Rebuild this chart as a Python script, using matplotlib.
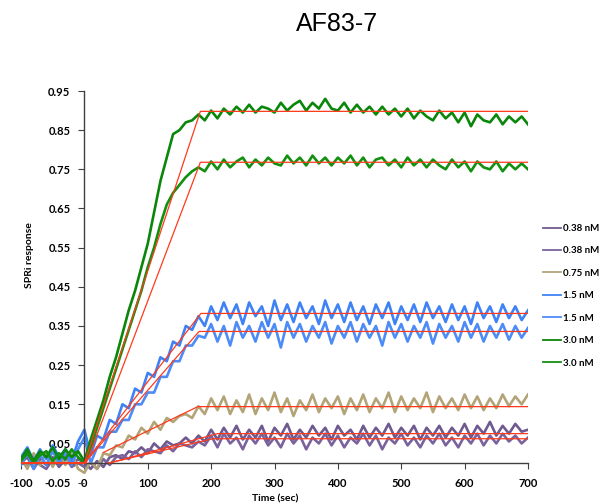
import numpy as np
import matplotlib
matplotlib.use("Agg")
import matplotlib.pyplot as plt

# ---------------- data ----------------
time_sec = list(range(-100, 701, 10))

labels = ["0.38 nM", "0.38 nM", "0.75 nM", "1.5 nM", "1.5 nM", "3.0 nM", "3.0 nM"]
colors = ["#6f5a8f", "#7a639c", "#b3a478", "#3f82f5", "#4d8cf7", "#0a870a", "#12900f"]

p1 = ([0.0, 0.015, -0.015, 0.01, -0.005, 0.015, -0.01, 0.01, -0.005, 0.01, 0.0] +
      [-0.015, 0.005, -0.01, 0.015, 0.02, 0.01, 0.03, 0.025, 0.04, 0.025, 0.05, 0.035, 0.055, 0.045, 0.05, 0.065, 0.05, 0.07] +
      [0.055, 0.085, 0.06, 0.09, 0.065, 0.095, 0.06, 0.085, 0.065, 0.095, 0.055, 0.09, 0.07, 0.1, 0.06, 0.085, 0.065, 0.095,
       0.07, 0.09, 0.06, 0.095, 0.07, 0.085, 0.06, 0.095, 0.065, 0.09, 0.07, 0.1, 0.065, 0.09, 0.07, 0.095, 0.06,
       0.09, 0.07, 0.095, 0.065, 0.09, 0.07, 0.1, 0.065, 0.095, 0.075, 0.105, 0.07, 0.095, 0.075, 0.1, 0.08, 0.085])
p2 = ([0.005, -0.01, 0.015, -0.005, -0.015, 0.01, -0.005, 0.015, -0.01, 0.0, -0.01] +
      [0.0, -0.015, 0.01, -0.005, 0.015, 0.02, 0.01, 0.03, 0.015, 0.035, 0.03, 0.025, 0.045, 0.03, 0.05, 0.045, 0.04, 0.055] +
      [0.045, 0.07, 0.04, 0.075, 0.05, 0.065, 0.035, 0.07, 0.05, 0.075, 0.045, 0.065, 0.04, 0.075, 0.05, 0.07, 0.035, 0.065,
       0.05, 0.075, 0.045, 0.07, 0.04, 0.065, 0.05, 0.075, 0.045, 0.07, 0.035, 0.065, 0.05, 0.075, 0.045, 0.065, 0.04,
       0.07, 0.05, 0.075, 0.045, 0.065, 0.04, 0.07, 0.05, 0.075, 0.045, 0.07, 0.05, 0.075, 0.055, 0.07, 0.05, 0.065])
t075 = ([0.015, -0.015, 0.025, -0.005, 0.03, -0.01, 0.02, -0.005, 0.025, -0.015, -0.025] +
        [0.005, -0.015, 0.025, 0.02, 0.045, 0.04, 0.07, 0.06, 0.09, 0.075, 0.105, 0.085, 0.115, 0.105, 0.12, 0.125, 0.115, 0.145] +
        [0.125, 0.165, 0.135, 0.17, 0.125, 0.16, 0.13, 0.175, 0.125, 0.165, 0.135, 0.18, 0.13, 0.165, 0.12, 0.16, 0.135, 0.175,
         0.13, 0.165, 0.14, 0.17, 0.125, 0.165, 0.135, 0.175, 0.13, 0.165, 0.14, 0.18, 0.13, 0.17, 0.135, 0.165, 0.14,
         0.18, 0.13, 0.17, 0.14, 0.165, 0.135, 0.175, 0.14, 0.17, 0.135, 0.165, 0.14, 0.175, 0.145, 0.17, 0.15, 0.175])
b1 = ([0.015, 0.04, 0.005, 0.035, 0.01, 0.045, 0.015, 0.035, 0.005, 0.055, 0.085] +
      [0.02, 0.07, 0.06, 0.11, 0.1, 0.15, 0.14, 0.19, 0.18, 0.23, 0.22, 0.27, 0.26, 0.31, 0.3, 0.35, 0.34, 0.375] +
      [0.35, 0.4, 0.365, 0.41, 0.37, 0.405, 0.355, 0.41, 0.375, 0.4, 0.35, 0.415, 0.365, 0.405, 0.36, 0.41, 0.37, 0.4,
       0.355, 0.415, 0.37, 0.405, 0.36, 0.41, 0.365, 0.4, 0.355, 0.405, 0.37, 0.41, 0.355, 0.4, 0.365, 0.405, 0.36,
       0.41, 0.37, 0.4, 0.36, 0.405, 0.365, 0.4, 0.355, 0.41, 0.37, 0.4, 0.36, 0.405, 0.37, 0.4, 0.365, 0.39])
b2 = ([-0.005, 0.025, -0.015, 0.02, -0.005, 0.03, 0.0, 0.025, -0.005, 0.035, 0.065] +
      [0.0, 0.04, 0.04, 0.08, 0.08, 0.11, 0.11, 0.15, 0.15, 0.18, 0.18, 0.22, 0.22, 0.26, 0.26, 0.3, 0.3, 0.325] +
      [0.32, 0.355, 0.31, 0.35, 0.3, 0.36, 0.32, 0.35, 0.31, 0.36, 0.32, 0.355, 0.295, 0.36, 0.32, 0.355, 0.31, 0.35,
       0.32, 0.36, 0.305, 0.35, 0.32, 0.36, 0.31, 0.355, 0.32, 0.35, 0.3, 0.36, 0.32, 0.355, 0.31, 0.35, 0.32,
       0.36, 0.305, 0.355, 0.32, 0.35, 0.31, 0.36, 0.32, 0.355, 0.31, 0.35, 0.32, 0.355, 0.315, 0.35, 0.32, 0.345])
g1 = ([0.01, 0.035, 0.005, 0.03, 0.015, 0.04, 0.01, 0.035, 0.015, 0.03, 0.005] +
      [0.06, 0.11, 0.16, 0.22, 0.27, 0.33, 0.39, 0.44, 0.50, 0.56, 0.64, 0.72, 0.78, 0.84, 0.85, 0.87, 0.875, 0.89] +
      [0.875, 0.9, 0.88, 0.905, 0.89, 0.91, 0.895, 0.915, 0.895, 0.91, 0.905, 0.895, 0.92, 0.9, 0.915, 0.925, 0.9, 0.92,
       0.905, 0.93, 0.905, 0.9, 0.92, 0.895, 0.915, 0.895, 0.91, 0.89, 0.91, 0.89, 0.905, 0.885, 0.905, 0.88, 0.9,
       0.885, 0.875, 0.9, 0.88, 0.895, 0.87, 0.895, 0.86, 0.89, 0.875, 0.87, 0.89, 0.865, 0.885, 0.87, 0.885, 0.865])
g2 = ([0.005, 0.025, 0.0, 0.02, 0.03, 0.005, 0.025, 0.01, 0.035, 0.015, 0.0] +
      [0.04, 0.09, 0.14, 0.19, 0.24, 0.29, 0.34, 0.39, 0.44, 0.50, 0.55, 0.61, 0.66, 0.69, 0.71, 0.73, 0.745, 0.755] +
      [0.745, 0.77, 0.75, 0.775, 0.755, 0.77, 0.78, 0.755, 0.775, 0.76, 0.78, 0.765, 0.76, 0.785, 0.765, 0.78, 0.76, 0.785,
       0.765, 0.78, 0.76, 0.78, 0.765, 0.785, 0.76, 0.78, 0.755, 0.775, 0.78, 0.76, 0.775, 0.755, 0.78, 0.76, 0.775,
       0.755, 0.775, 0.76, 0.75, 0.775, 0.755, 0.77, 0.745, 0.77, 0.755, 0.75, 0.77, 0.745, 0.765, 0.75, 0.765, 0.75])
series = [p1, p2, t075, b1, b2, g1, g2]

# fitted curves (vertices: time, response)
fit_p1 = ([40, 210, 700], [0.0, 0.075, 0.075])
fit_p2 = ([38, 203, 700], [0.0, 0.062, 0.062])
fit_t = ([30, 179, 700], [0.027, 0.144, 0.144])
fit_b1 = ([-100, 0, 184, 700], [0.0, 0.0, 0.382, 0.382])
fit_b2 = ([-100, 0, 181, 700], [0.0, 0.0, 0.336, 0.336])
fit_g1 = ([-100, 0, 183, 700], [0.0, 0.0, 0.898, 0.898])
fit_g2 = ([-100, 3, 183, 700], [0.0, 0.0, 0.768, 0.768])
fits = [fit_p1, fit_p2, fit_t, fit_b1, fit_b2, fit_g1, fit_g2]

xticks = [-100, 0, 100, 200, 300, 400, 500, 600, 700]
yticks = [-0.05, 0.05, 0.15, 0.25, 0.35, 0.45, 0.55, 0.65, 0.75, 0.85, 0.95]
ytick_labels = ["-0.05", "0.05", "0.15", "0.25", "0.35", "0.45", "0.55", "0.65", "0.75", "0.85", "0.95"]

# ---------------- figure ----------------
W, H = 605, 504
fig = plt.figure(figsize=(W / 100, H / 100), dpi=100)
ax = fig.add_axes([21 / W, (H - 482.6) / H, (528 - 21) / W, (482.6 - 91) / H])

handles = []
for y, c, lab in zip(series, colors, labels):
    h, = ax.plot(time_sec, y, color=c, lw=1.9, label=lab, solid_joinstyle="round")
    handles.append(h)
for fx, fy in fits:
    ax.plot(fx, fy, color="#ff3a1c", lw=0.9, zorder=5)

ax.set_xlim(-100, 700)
ax.set_ylim(-0.05, 0.95)

for s in ["top", "right"]:
    ax.spines[s].set_visible(False)
ax.spines["left"].set_position(("data", 0))
ax.spines["bottom"].set_position(("data", 0))
ax.spines["left"].set_bounds(0, 0.95)
for s in ["left", "bottom"]:
    ax.spines[s].set_color("#404040")
    ax.spines[s].set_linewidth(1.0)

# arrow heads
ax.annotate("", xy=(0, 0.955), xytext=(0, 0.90),
            arrowprops=dict(arrowstyle="->", color="black", lw=1.0, mutation_scale=12))
ax.annotate("", xy=(704, 0), xytext=(650, 0),
            arrowprops=dict(arrowstyle="->", color="black", lw=1.0, mutation_scale=12))

font = "Lato"
ax.set_xticks(xticks)
ax.set_xticklabels([str(v) for v in xticks], fontsize=8, fontweight="bold", family=font)
ax.set_yticks(yticks)
ax.set_yticklabels(ytick_labels, fontsize=8, fontweight="bold", family=font)
ax.tick_params(axis="x", length=4, width=0.8, color="#404040", pad=7)
ax.tick_params(axis="y", length=4, width=0.8, color="#404040", pad=6)

fig.text(337 / W, 1 - 24 / H, "AF83-7", ha="center", va="center", fontsize=18,
         family="Liberation Sans")
fig.text(30 / W, 1 - 255 / H, "SPRi response", rotation=90, ha="center", va="center",
         fontsize=7.5, fontweight="bold", family=font)
fig.text(275 / W, 1 - 503 / H, "Time (sec)", ha="center", va="bottom",
         fontsize=7.5, fontweight="bold", family=font)

leg = fig.legend(handles=handles, labels=labels, loc="upper left",
                 bbox_to_anchor=(543 / W, 1 - 224 / H), frameon=False,
                 prop=dict(family=font, weight="bold", size=7),
                 handlelength=1.9, handletextpad=0.2, labelspacing=1.38,
                 borderpad=0, borderaxespad=0)
for lh in leg.get_lines():
    lh.set_linewidth(1.3)

fig.savefig("out.png", dpi=100)
